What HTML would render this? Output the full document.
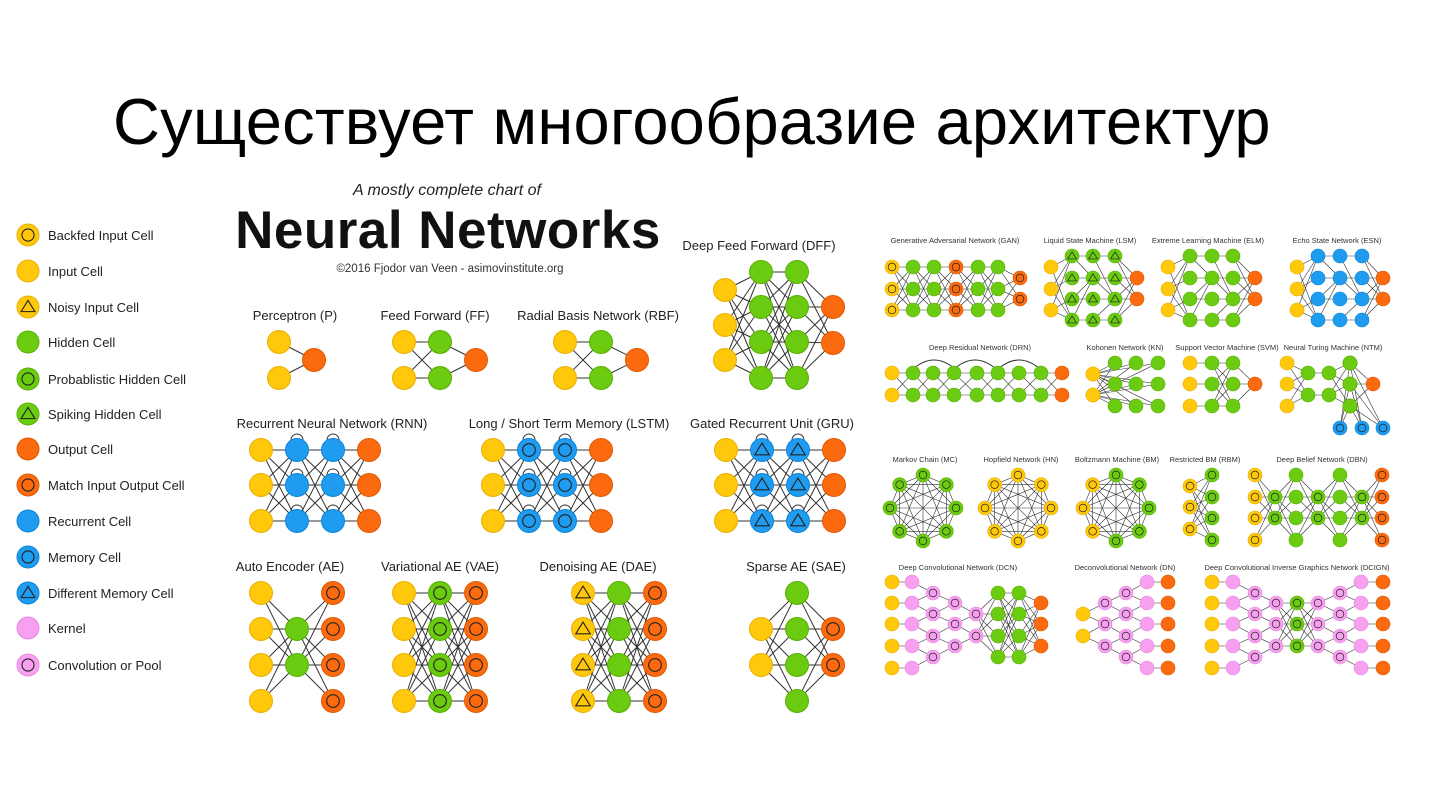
<!DOCTYPE html>
<html><head><meta charset="utf-8">
<style>
html,body{margin:0;padding:0;background:#fff;}
#w{position:relative;width:1429px;height:804px;overflow:hidden;font-family:"Liberation Sans","DejaVu Sans",sans-serif;}
h1{position:absolute;left:113px;top:84px;margin:0;font-weight:normal;font-size:65px;color:#000;white-space:nowrap;letter-spacing:0.2px}
svg{position:absolute;left:0;top:0}
</style></head><body><div id="w">
<h1>Существует многообразие архитектур</h1>
<svg id="s" width="1429" height="804" font-family="Liberation Sans, DejaVu Sans, sans-serif">
<g id="L" stroke="#333" stroke-width="1" fill="none"></g>
<g id="N"></g>
<g fill="#222" font-size="13">
<text x="48" y="240">Backfed Input Cell</text>
<text x="48" y="276">Input Cell</text>
<text x="48" y="312">Noisy Input Cell</text>
<text x="48" y="347">Hidden Cell</text>
<text x="48" y="384">Probablistic Hidden Cell</text>
<text x="48" y="419">Spiking Hidden Cell</text>
<text x="48" y="454">Output Cell</text>
<text x="48" y="490">Match Input Output Cell</text>
<text x="48" y="526">Recurrent Cell</text>
<text x="48" y="562">Memory Cell</text>
<text x="48" y="598">Different Memory Cell</text>
<text x="48" y="633">Kernel</text>
<text x="48" y="670">Convolution or Pool</text>
</g>
<text x="447" y="195" text-anchor="middle" font-size="16" font-style="italic" fill="#222">A mostly complete chart of</text>
<text x="448" y="248" text-anchor="middle" font-size="53" font-weight="bold" fill="#111" letter-spacing="0.5">Neural Networks</text>
<text x="450" y="272" text-anchor="middle" font-size="11.5" fill="#333">©2016 Fjodor van Veen - asimovinstitute.org</text>
<g fill="#222" font-size="13" text-anchor="middle">
<text x="295" y="320">Perceptron (P)</text>
<text x="435" y="320">Feed Forward (FF)</text>
<text x="598" y="320">Radial Basis Network (RBF)</text>
<text x="759" y="250">Deep Feed Forward (DFF)</text>
<text x="332" y="428">Recurrent Neural Network (RNN)</text>
<text x="569" y="428">Long / Short Term Memory (LSTM)</text>
<text x="772" y="428">Gated Recurrent Unit (GRU)</text>
<text x="290" y="571">Auto Encoder (AE)</text>
<text x="440" y="571">Variational AE (VAE)</text>
<text x="598" y="571">Denoising AE (DAE)</text>
<text x="796" y="571">Sparse AE (SAE)</text>
</g>
<g fill="#333" font-size="7.5" text-anchor="middle">
<text x="955" y="243">Generative Adversarial Network (GAN)</text>
<text x="1090" y="243">Liquid State Machine (LSM)</text>
<text x="1208" y="243">Extreme Learning Machine (ELM)</text>
<text x="1337" y="243">Echo State Network (ESN)</text>
<text x="980" y="350">Deep Residual Network (DRN)</text>
<text x="1125" y="350">Kohonen Network (KN)</text>
<text x="1227" y="350">Support Vector Machine (SVM)</text>
<text x="1333" y="350">Neural Turing Machine (NTM)</text>
<text x="925" y="462">Markov Chain (MC)</text>
<text x="1021" y="462">Hopfield Network (HN)</text>
<text x="1117" y="462">Boltzmann Machine (BM)</text>
<text x="1205" y="462">Restricted BM (RBM)</text>
<text x="1322" y="462">Deep Belief Network (DBN)</text>
<text x="958" y="570">Deep Convolutional Network (DCN)</text>
<text x="1125" y="570">Deconvolutional Network (DN)</text>
<text x="1297" y="570">Deep Convolutional Inverse Graphics Network (DCIGN)</text>
</g>
</svg>
<script>
var NS="http://www.w3.org/2000/svg",L=document.getElementById('L'),N=document.getElementById('N');
var COL={y:['#ffc80a','#e8b000'],g:['#6acb10','#58b000'],o:['#fb6a0e','#e05800'],b:['#1f9bef','#0a85d8'],k:['#f7a0f0','#e98ae2']};
function el(t,a,p){var e=document.createElementNS(NS,t);for(var k in a)e.setAttribute(k,a[k]);p.appendChild(e);return e;}
function node(x,y,r,t){var c=COL[t[0]];el('circle',{cx:x,cy:y,r:r,fill:c[0],stroke:c[1],'stroke-width':r>9?1:0.6},N);
 var m=t.slice(1),sw=r>9?1.1:0.7;
 if(m==='c')el('circle',{cx:x,cy:y,r:r*0.55,fill:'none',stroke:'#222','stroke-width':sw},N);
 if(m==='t'){var s=r*0.6;el('polygon',{points:(x)+','+(y-s)+' '+(x-s*1.05)+','+(y+s*0.7)+' '+(x+s*1.05)+','+(y+s*0.7),fill:'none',stroke:'#222','stroke-width':sw},N);}
}
function line(a,b,w){el('line',{x1:a[0],y1:a[1],x2:b[0],y2:b[1],'stroke-width':w},L);}
function net(layers,r,w,conn){var P=layers.map(function(l){return l[1].map(function(y){return [l[0],y,l[2]];});});
 for(var i=0;i<P.length-1;i++){P[i].forEach(function(a,ia){P[i+1].forEach(function(b,ib){if(!conn||conn(i,ia,ib,a,b))line(a,b,w);});});}
 P.forEach(function(l){l.forEach(function(p){node(p[0],p[1],r,p[2]);});});return P;}
var R=11.5,W=1;
net([[279,[342,378],'y'],[314,[360],'o']],R,W);
net([[404,[342,378],'y'],[440,[342,378],'g'],[476,[360],'o']],R,W);
net([[565,[342,378],'y'],[601,[342,378],'g'],[637,[360],'o']],R,W);
net([[725,[290,325,360],'y'],[761,[272,307,342,378],'g'],[797,[272,307,342,378],'g'],[833,[307,343],'o']],R,W);
function loops(xs,ys){xs.forEach(function(x){ys.forEach(function(y){el('path',{d:'M'+(x-6)+','+(y-10)+' a6,6 0 1 1 12,0'},L);});});}
var ry=[450,485,521];
loops([297,333],ry);net([[261,ry,'y'],[297,ry,'b'],[333,ry,'b'],[369,ry,'o']],R,W);
loops([529,565],ry);net([[493,ry,'y'],[529,ry,'bc'],[565,ry,'bc'],[601,ry,'o']],R,W);
loops([762,798],ry);net([[726,ry,'y'],[762,ry,'bt'],[798,ry,'bt'],[834,ry,'o']],R,W);
var a4=[593,629,665,701],a2=[629,665];
net([[261,a4,'y'],[297,a2,'g'],[333,a4,'oc']],R,W);
net([[404,a4,'y'],[440,a4,'gc'],[476,a4,'oc']],R,W);
net([[583,a4,'yt'],[619,a4,'g'],[655,a4,'oc']],R,W);
net([[761,a2,'y'],[797,a4,'g'],[833,a2,'oc']],R,W);
var lt=['yc','y','yt','g','gc','gt','o','oc','b','bc','bt','k','kc'],ly=[235,271,307,342,379,414,449,485,521,557,593,628,665];
lt.forEach(function(t,i){node(28,ly[i],11,t);});
var r=7,w=0.6;
var g3=[267,289,310],g2=[278,299],g4=[256,278,299,320];
net([[892,g3,'yc'],[913,g3,'g'],[934,g3,'g'],[956,g3,'oc'],[978,g3,'g'],[998,g3,'g'],[1020,g2,'oc']],r,w);
function sp(i,a,b){return (a*3+b*2+i)%3===0||a===b;}
net([[1051,g3,'y'],[1072,g4,'gt'],[1093,g4,'gt'],[1115,g4,'gt'],[1137,g2,'o']],r,w,function(i,a,b){return i==3||sp(i,a,b);});
net([[1168,g3,'y'],[1190,g4,'g'],[1212,g4,'g'],[1233,g4,'g'],[1255,g2,'o']],r,w,function(i,a,b){return i==3||sp(i,a,b);});
net([[1297,g3,'y'],[1318,g4,'b'],[1340,g4,'b'],[1362,g4,'b'],[1383,g2,'o']],r,w,function(i,a,b){return i==3||sp(i,a,b);});
var d2=[373,395];
[913,954,998].forEach(function(x){el('path',{d:'M'+x+','+(d2[0]-4)+' Q'+(x+21)+','+(d2[0]-22)+' '+(x+42)+','+(d2[0]-4)},L);});
net([[892,d2,'y'],[913,d2,'g'],[933,d2,'g'],[954,d2,'g'],[977,d2,'g'],[998,d2,'g'],[1019,d2,'g'],[1041,d2,'g'],[1062,d2,'o']],r,w);
var k3=[363,384,406];
net([[1093,[374,395],'y'],[1115,k3,'g']],r,w);net([[1093,[374,395],'y'],[1136,k3,'g']],r,w);
net([[1093,[374,395],'y'],[1158,k3,'g']],r,w);
net([[1190,k3,'y'],[1212,k3,'g'],[1233,k3,'g'],[1255,[384],'o']],r,w,function(i,a,b){return i!=0||a===b;});
net([[1287,k3,'y'],[1308,d2,'g'],[1329,d2,'g'],[1350,k3,'g'],[1373,[384],'o']],r,w,function(i,a,b){return i!=1||a===b;});
net([[1350,k3,'g'],[1340,[428],'bc']],r,w);net([[1350,k3,'g'],[1362,[428],'bc']],r,w);net([[1350,k3,'g'],[1383,[428],'bc']],r,w);
function ring(cx,cy,rad,types){var P=[];for(var i=0;i<8;i++){var an=-Math.PI/2+i*Math.PI/4;P.push([cx+rad*Math.cos(an),cy+rad*Math.sin(an)]);}
 for(var i=0;i<8;i++)for(var j=i+1;j<8;j++)line(P[i],P[j],w);P.forEach(function(p,i){node(p[0],p[1],r,types[i]);});}
ring(923,508,33,['gc','gc','gc','gc','gc','gc','gc','gc']);
ring(1018,508,33,['yc','yc','yc','yc','yc','yc','yc','yc']);
ring(1116,508,33,['gc','gc','gc','gc','gc','yc','yc','yc']);
var b4=[475,497,518,540],b2=[497,518];
net([[1190,[486,507,529],'yc'],[1212,b4,'gc']],r,w);
net([[1255,b4,'yc'],[1275,b2,'gc'],[1296,b4,'g'],[1318,b2,'gc'],[1340,b4,'g'],[1362,b2,'gc'],[1382,b4,'oc']],r,w);
var c5=[582,603,624,646,668],c4=[593,614,636,657],c3=[603,624,646],c2=[614,636];
function loc(i,a,b,A,B){return Math.abs(A[1]-B[1])<24;}
net([[892,c5,'y'],[912,c5,'k'],[933,c4,'kc'],[955,c3,'kc'],[976,c2,'kc']],r,w,function(i,a,b,A,B){return i==0?a===b:loc(i,a,b,A,B);});
net([[976,c2,'kc'],[998,c4,'g'],[1019,c4,'g'],[1041,c3,'o']],r,w);
net([[1083,c2,'y'],[1105,c3,'kc'],[1126,c4,'kc'],[1147,c5,'k'],[1168,c5,'o']],r,w,function(i,a,b,A,B){return i==3?a===b:loc(i,a,b,A,B);});
net([[1212,c5,'y'],[1233,c5,'k'],[1255,c4,'kc'],[1276,c3,'kc'],[1297,c3,'gc'],[1318,c3,'kc'],[1340,c4,'kc'],[1361,c5,'k'],[1383,c5,'o']],r,w,function(i,a,b,A,B){return (i==0||i==7)?a===b:(i==3||i==4)?true:loc(i,a,b,A,B);});
</script>
</div></body></html>
